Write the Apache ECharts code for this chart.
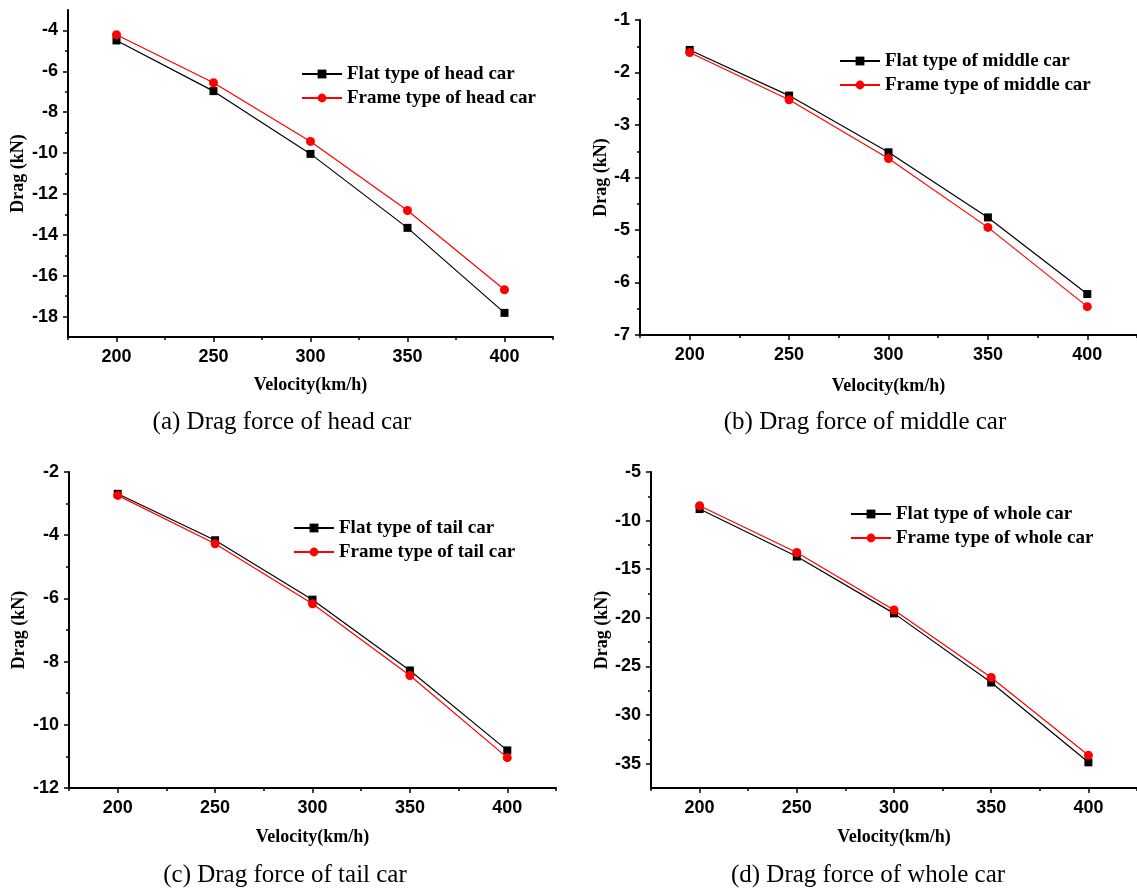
<!DOCTYPE html>
<html>
<head>
<meta charset="utf-8">
<script src="https://cdn.jsdelivr.net/npm/echarts@6/dist/echarts.min.js"></script>
<style>
	html, body {margin: 0; padding: 0; background: #fff;}
	#chart {width: 1137px; height: 891px;}
</style>
</head>
<body>
<div id="chart"></div>
<script>
// velocities on the x axis
const velocity = [200, 250, 300, 350, 400];
const velocityMinor = [175, 225, 275, 325, 375, 425];

// drag values (kN)
const headFlat = [-4.49, -6.97, -10.04, -13.66, -17.82];
const headFrame = [-4.21, -6.56, -9.43, -12.81, -16.69];
const middleFlat = [-1.57, -2.44, -3.52, -4.76, -6.22];
const middleFrame = [-1.62, -2.52, -3.64, -4.95, -6.46];
const tailFlat = [-2.69, -4.16, -6.04, -8.28, -10.81];
const tailFrame = [-2.74, -4.27, -6.17, -8.44, -11.04];
const wholeFlat = [-8.81, -13.69, -19.54, -26.65, -34.86];
const wholeFrame = [-8.47, -13.28, -19.19, -26.13, -34.14];

// y axis ticks
const headTicks = [-4, -6, -8, -10, -12, -14, -16, -18];
const headMinor = [-5, -7, -9, -11, -13, -15, -17];
const middleTicks = [-1, -2, -3, -4, -5, -6, -7];
const middleMinor = [-1.5, -2.5, -3.5, -4.5, -5.5, -6.5];
const tailTicks = [-2, -4, -6, -8, -10, -12];
const tailMinor = [-3, -5, -7, -9, -11];
const wholeTicks = [-5, -10, -15, -20, -25, -30, -35];
const wholeMinor = [-7.5, -12.5, -17.5, -22.5, -27.5, -32.5];

const panels = [
	{
		box: [68, 10, 485, 327], yRange: [-19, -3], ticks: headTicks, minor: headMinor,
		names: ['Flat type of head car', 'Frame type of head car'], data: [headFlat, headFrame],
		legend: [301, 64], xGap: 39, yGap: 41,
		caption: ['(a) Drag force of head car', 282, 422]
	},
	{
		box: [640, 20, 502, 315], yRange: [-7, -1], ticks: middleTicks, minor: middleMinor,
		names: ['Flat type of middle car', 'Frame type of middle car'], data: [middleFlat, middleFrame],
		legend: [839, 51], xGap: 42, yGap: 29,
		caption: ['(b) Drag force of middle car', 865, 422]
	},
	{
		box: [69, 472, 487, 316], yRange: [-12, -2], ticks: tailTicks, minor: tailMinor,
		names: ['Flat type of tail car', 'Frame type of tail car'], data: [tailFlat, tailFrame],
		legend: [293, 518], xGap: 40, yGap: 41,
		caption: ['(c) Drag force of tail car', 285, 875]
	},
	{
		box: [651, 472, 491, 316], yRange: [-37.5, -5], ticks: wholeTicks, minor: wholeMinor,
		names: ['Flat type of whole car', 'Frame type of whole car'], data: [wholeFlat, wholeFrame],
		legend: [850, 504], xGap: 40, yGap: 39,
		caption: ['(d) Drag force of whole car', 868, 875]
	}
];

const black = '#000000';
const red = '#ff0000';
const tickFont = {fontFamily: 'Liberation Sans', fontWeight: 'bold', fontSize: 18, color: black};
const nameFont = {fontFamily: 'Liberation Serif', fontWeight: 'bold', fontSize: 18, color: black};

const chart = echarts.init(document.getElementById('chart'));
const option = {
	animation: false,
	backgroundColor: '#fff',
	grid: [], xAxis: [], yAxis: [], series: [], legend: [], graphic: []
};

panels.forEach((p, i) => {
	option.grid.push({left: p.box[0], top: p.box[1], width: p.box[2], height: p.box[3]});

	// main x axis + a tick-only twin for the minor ticks
	option.xAxis.push({
		gridIndex: i, type: 'value', position: 'bottom', min: 175, max: 425,
		name: 'Velocity(km/h)', nameLocation: 'middle', nameGap: p.xGap, nameTextStyle: nameFont,
		axisLine: {onZero: false, lineStyle: {color: black, width: 2}},
		axisTick: {customValues: velocity, length: 5, lineStyle: {color: black, width: 1.5}},
		axisLabel: {customValues: velocity, margin: 11, ...tickFont},
		splitLine: {show: false}
	});
	option.xAxis.push({
		gridIndex: i, type: 'value', position: 'bottom', min: 175, max: 425,
		axisLine: {show: false, onZero: false},
		axisTick: {customValues: velocityMinor, length: 3, lineStyle: {color: black, width: 1.5}},
		axisLabel: {show: false},
		splitLine: {show: false}
	});

	option.yAxis.push({
		gridIndex: i, type: 'value', position: 'left', min: p.yRange[0], max: p.yRange[1],
		name: 'Drag (kN)', nameLocation: 'middle', nameGap: p.yGap, nameTextStyle: nameFont,
		axisLine: {onZero: false, lineStyle: {color: black, width: 2}},
		axisTick: {customValues: p.ticks, length: 5, lineStyle: {color: black, width: 1.5}},
		axisLabel: {customValues: p.ticks, margin: 10, ...tickFont},
		splitLine: {show: false}
	});
	option.yAxis.push({
		gridIndex: i, type: 'value', position: 'left', min: p.yRange[0], max: p.yRange[1],
		axisLine: {show: false, onZero: false},
		axisTick: {customValues: p.minor, length: 3, lineStyle: {color: black, width: 1.5}},
		axisLabel: {show: false},
		splitLine: {show: false}
	});

	const styles = [
		{color: black, symbol: 'rect', size: 8},
		{color: red, symbol: 'circle', size: 9}
	];
	p.names.forEach((name, k) => {
		option.series.push({
			type: 'line', name: name,
			xAxisIndex: 2 * i, yAxisIndex: 2 * i,
			data: velocity.map((v, j) => [v, p.data[k][j]]),
			symbol: styles[k].symbol, symbolSize: styles[k].size,
			itemStyle: {color: styles[k].color},
			lineStyle: {color: styles[k].color, width: 1.2},
			z: 2 + k
		});
	});

	option.legend.push({
		data: p.names, orient: 'vertical', left: p.legend[0], top: p.legend[1],
		padding: 0, itemWidth: 40, itemHeight: 11, itemGap: 4,
		textStyle: {...nameFont, fontSize: 19, lineHeight: 20}
	});

	option.graphic.push({
		type: 'text', x: p.caption[1], y: p.caption[2],
		style: {
			text: p.caption[0], font: '25px "Liberation Serif"', fill: black,
			textAlign: 'center', textVerticalAlign: 'middle', align: 'center', verticalAlign: 'middle'
		}
	});
});

chart.setOption(option);
</script>
</body>
</html>
